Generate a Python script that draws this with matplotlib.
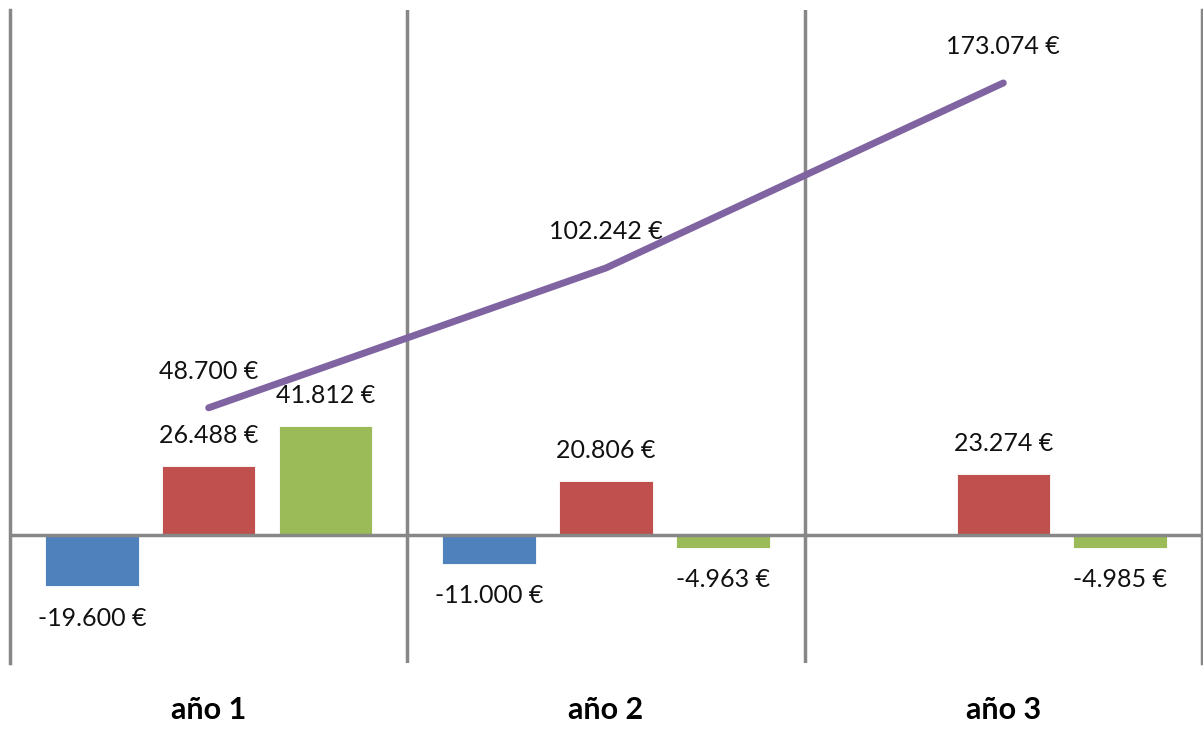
import matplotlib
matplotlib.use("Agg")
import matplotlib.pyplot as plt
import numpy as np

# Data
years = ["año 1", "año 2", "año 3"]
serie_azul = [-19600, -11000, np.nan]
serie_roja = [26488, 20806, 23274]
serie_verde = [41812, -4963, -4985]
acumulado = [48700, 102242, 173074]

colors = {"azul": "#4F81BD", "roja": "#C0504D", "verde": "#9BBB59", "linea": "#8064A2"}
grid_color = "#878787"


def fmt(v):
    s = f"{abs(int(v)):,}".replace(",", ".")
    return ("-" if v < 0 else "") + s + " \u20ac"


plt.rcParams["font.family"] = ["Lato", "DejaVu Sans"]

fig = plt.figure(figsize=(12.03, 7.29), dpi=100)
W, H = 1203, 729
ax = fig.add_axes([10 / W, (H - 663) / H, (1202 - 10) / W, (663 - 10) / H])

x = np.arange(len(years))
width = 0.235
offset = 0.294

series = [(serie_azul, colors["azul"], -offset),
          (serie_roja, colors["roja"], 0.0),
          (serie_verde, colors["verde"], offset)]

for vals, col, off in series:
    ax.bar(x + off, vals, width=width, color=col, edgecolor="white",
           linewidth=0.6, zorder=3)
    for xi, v in zip(x + off, vals):
        if np.isnan(v):
            continue
        dy = 22 if v >= 0 else -23
        ax.annotate(fmt(v), (xi, v), xytext=(0, dy), textcoords="offset points",
                    ha="center", va="center", fontsize=18, color="#111111")

ax.plot(x, acumulado, color=colors["linea"], lw=5, solid_capstyle="round", zorder=4)
for xi, v in zip(x, acumulado):
    ax.annotate(fmt(v), (xi, v), xytext=(0, 26), textcoords="offset points",
                ha="center", va="center", fontsize=18, color="#111111")

ax.set_xlim(-0.5, 2.5)
ax.set_ylim(-49000, 201000)

# category separators and zero line
for xs in [0.5, 1.5]:
    ax.axvline(xs, color=grid_color, lw=2.5, zorder=2)
ax.axhline(0, color=grid_color, lw=2.5, zorder=5)

for side in ["top", "bottom"]:
    ax.spines[side].set_visible(False)
for side in ["left", "right"]:
    ax.spines[side].set_color(grid_color)
    ax.spines[side].set_linewidth(2.5)

ax.set_yticks([])
ax.set_xticks(x)
ax.set_xticklabels(years, fontsize=22, fontweight="bold")
ax.tick_params(axis="x", length=0, pad=24)

fig.savefig("out.png", dpi=100)
